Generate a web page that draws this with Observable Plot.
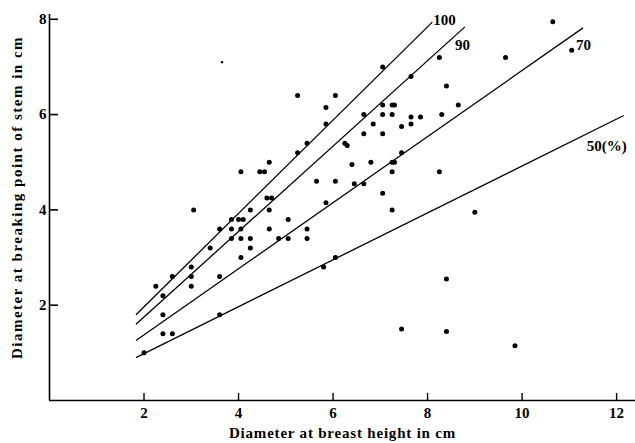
<!DOCTYPE html>
<html>
<head>
<meta charset="utf-8">
<script src="https://cdn.jsdelivr.net/npm/d3@7"></script>
<script src="https://cdn.jsdelivr.net/npm/@observablehq/plot@0.6"></script>
<style>
  html, body { margin: 0; padding: 0; background: #fff; }
  #chart svg { display: block; }
</style>
</head>
<body>
<div id="chart"></div>
<script>
// ---- data ----
const xTitle = "Diameter at breast height in cm";
const yTitle = "Diameter at breaking point of stem in cm";
const xTicks = [2, 4, 6, 8, 10, 12];
const yTicks = [2, 4, 6, 8];

// observed trees: DBH (x) and diameter at breaking point (y)
const ptX = [2.0, 2.25, 2.4, 2.4, 2.4, 2.6, 2.6,
  3.05, 3.0, 3.0, 3.0, 3.4, 3.6, 3.6, 3.6,
  3.85, 4.0, 4.1, 3.85, 4.05, 3.85, 4.05, 4.25, 4.25, 4.05,
  4.05, 4.45, 4.55, 4.65, 4.25, 4.65, 4.6, 4.7, 4.65, 4.85,
  5.05, 5.05, 5.25, 5.25, 5.45, 5.45, 5.45, 5.65,
  5.8, 6.05, 5.85, 5.85, 5.85, 6.05, 6.05, 6.25, 6.3,
  6.4, 6.45, 6.65, 6.65, 6.65, 6.8, 6.85,
  7.05, 7.05, 7.25, 7.3, 7.05, 7.25, 7.05, 7.05, 7.25, 7.3, 7.25, 7.25,
  7.45, 7.45, 7.65, 7.65, 7.65, 7.85, 8.25, 8.3, 8.4, 8.65, 8.25, 9.0,
  8.4, 7.45, 8.4, 9.85, 9.65, 10.65, 11.05];
const ptY = [1.0, 2.4, 2.2, 1.8, 1.4, 2.6, 1.4,
  4.0, 2.8, 2.6, 2.4, 3.2, 3.6, 2.6, 1.8,
  3.8, 3.8, 3.8, 3.6, 3.6, 3.4, 3.4, 3.4, 3.2, 3.0,
  4.8, 4.8, 4.8, 5.0, 4.0, 4.0, 4.25, 4.25, 3.6, 3.4,
  3.8, 3.4, 5.2, 6.4, 5.4, 3.6, 3.4, 4.6,
  2.8, 3.0, 4.15, 5.8, 6.15, 6.4, 4.6, 5.4, 5.35,
  4.95, 4.55, 4.55, 6.0, 5.6, 5.0, 5.8,
  7.0, 6.2, 6.2, 6.2, 6.0, 6.0, 5.6, 4.35, 5.0, 5.0, 4.8, 4.0,
  5.75, 5.2, 6.8, 5.95, 5.8, 5.95, 7.2, 6.0, 6.6, 6.2, 4.8, 3.95,
  2.55, 1.5, 1.45, 1.15, 7.2, 7.95, 7.35];
// small stray speck printed in the figure
const speckX = [3.65];
const speckY = [7.1];

// reference lines (percent ratio curves)
const lineNames = ["100", "90", "70", "50(%)"];
const lineX1 = [1.83, 1.83, 1.83, 1.83];
const lineY1 = [1.80, 1.60, 1.26, 0.90];
const lineX2 = [8.10, 8.79, 11.29, 12.15];
const lineY2 = [7.94, 7.84, 7.82, 5.98];

// ---- build tables ----
const points = ptX.map((x, i) => ({x, y: ptY[i]}));
const specks = speckX.map((x, i) => ({x, y: speckY[i]}));
const lines = lineNames.map((name, i) => ({name, x1: lineX1[i], y1: lineY1[i], x2: lineX2[i], y2: lineY2[i]}));
const labelDx = [1, -10, -7, -37];
const labelDy = [-2, 18, 17, 31];

const font = "'Liberation Serif', 'DejaVu Serif', serif";

const chart = Plot.plot({
  width: 635,
  height: 443,
  marginLeft: 49,
  marginRight: 0,
  marginTop: 14,
  marginBottom: 43,
  x: {domain: [0, 12.4]},
  y: {domain: [0, 8.1]},
  style: {fontFamily: font, fontSize: "15px", fontWeight: "bold", background: "#fff", color: "#000"},
  marks: [
    Plot.ruleX([0], {stroke: "#000", strokeWidth: 1.6}),
    Plot.ruleY([0], {stroke: "#000", strokeWidth: 1.6}),
    // inward ticks
    Plot.ruleX(xTicks, {x: d => d, y1: 0, y2: 0, insetTop: -7, stroke: "#000", strokeWidth: 1.4}),
    Plot.ruleY(yTicks, {y: d => d, x1: 0, x2: 0, insetRight: -9, stroke: "#000", strokeWidth: 1.6}),
    Plot.axisX({ticks: xTicks, tickSize: 0, tickPadding: 7, label: null, fontSize: 15, fontWeight: "bold"}),
    Plot.axisY({ticks: yTicks, tickSize: 0, tickPadding: 3, label: null, fontSize: 15, fontWeight: "bold"}),
    Plot.link(lines, {x1: "x1", y1: "y1", x2: "x2", y2: "y2", stroke: "#000", strokeWidth: 1.3}),
    Plot.dot(points, {x: "x", y: "y", r: 2.5, fill: "#000", stroke: "none"}),
    Plot.dot(specks, {x: "x", y: "y", r: 1.2, fill: "#000", stroke: "none"}),
    ...lines.map((l, i) => Plot.text([l], {
      x: "x2", y: "y2", text: "name", textAnchor: "start", dx: labelDx[i], dy: labelDy[i],
      fontSize: 15, fontWeight: "bold", fill: "#000"
    })),
    Plot.text([xTitle], {text: d => d, frameAnchor: "bottom", textAnchor: "middle", dy: 37, fontSize: 15, fontWeight: "bold", fill: "#000"}),
    Plot.text([yTitle], {text: d => d, frameAnchor: "left", textAnchor: "middle", rotate: -90, dx: -32.5, dy: -10, fontSize: 15, fontWeight: "bold", fill: "#000"})
  ]
});
// the printed titles are set with wide letter spacing
const sel = d3.select(chart).selectAll("text");
sel.filter(function() { return this.textContent === xTitle; }).style("letter-spacing", "0.8px");
sel.filter(function() { return this.textContent === yTitle; }).style("letter-spacing", "1.5px");
document.getElementById("chart").appendChild(chart);
</script>
</body>
</html>
